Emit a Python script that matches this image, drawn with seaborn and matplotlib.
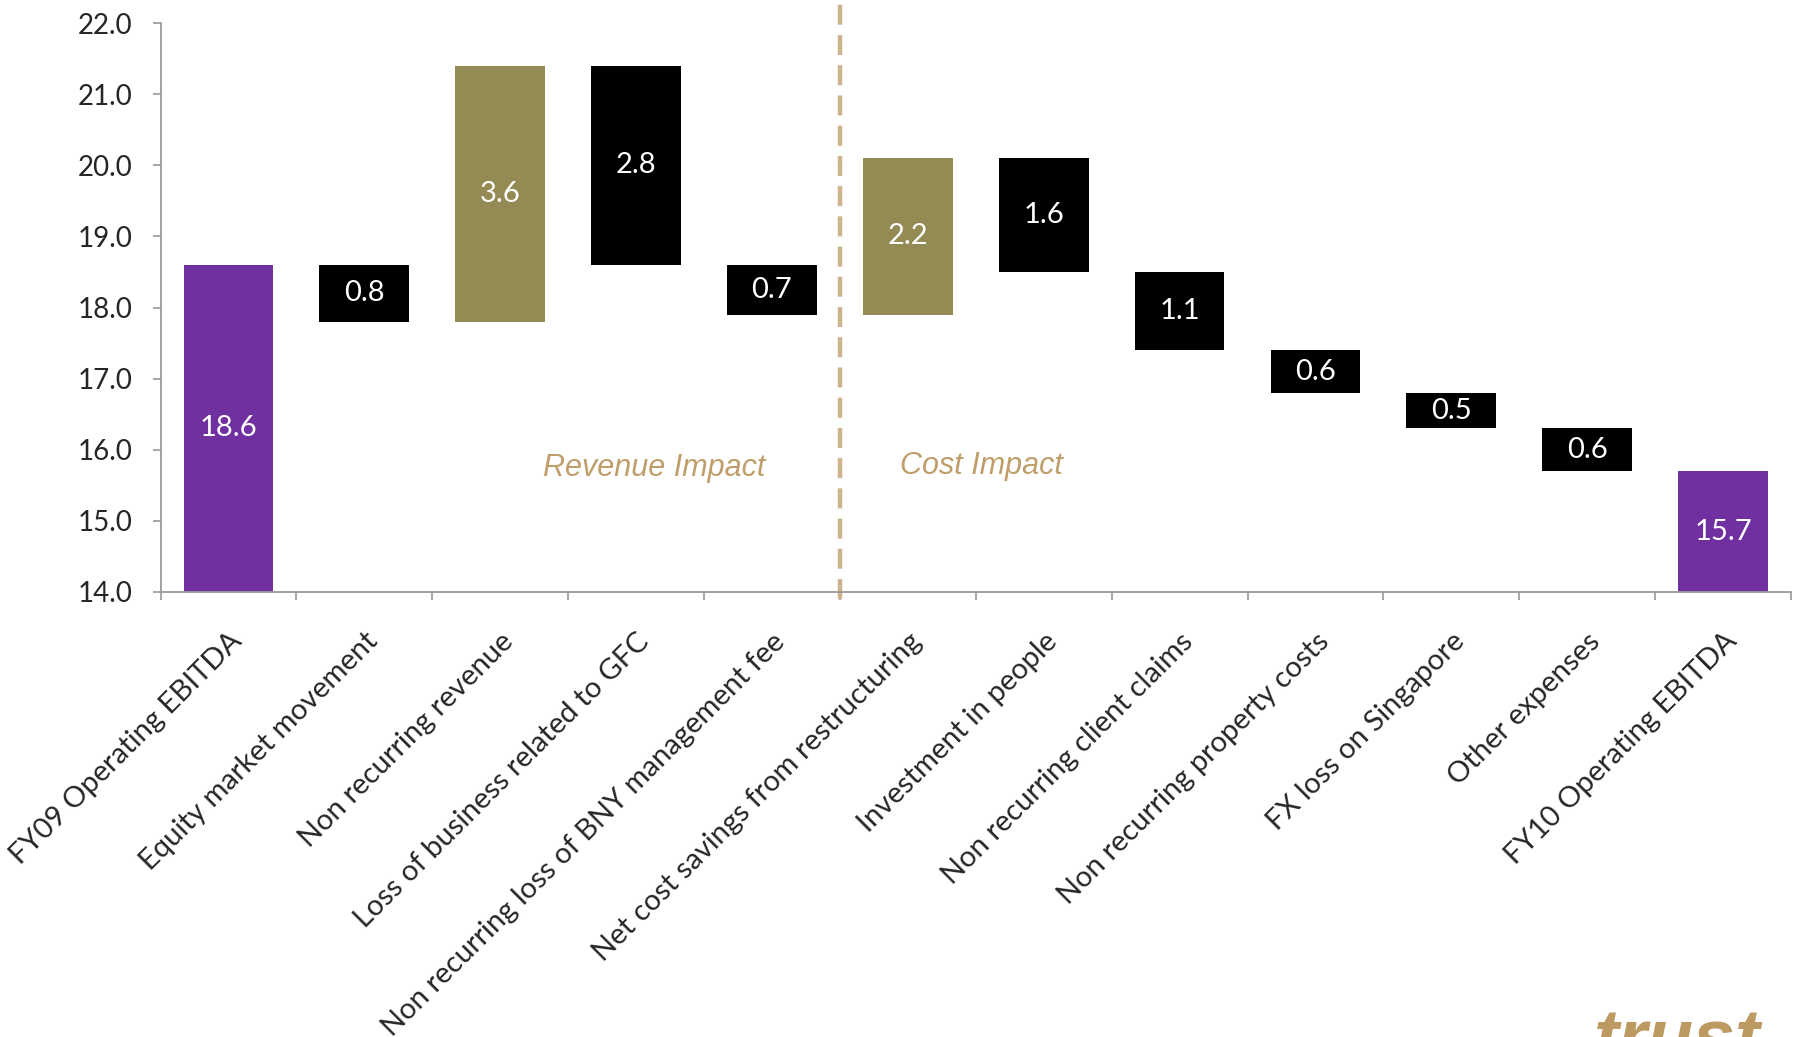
import matplotlib
matplotlib.use("Agg")
import matplotlib.pyplot as plt
import seaborn as sns
import numpy as np
import pandas as pd
from matplotlib.ticker import FixedLocator

categories = ["FY09 Operating EBITDA", "Equity market movement", "Non recurring revenue",
              "Loss of business related to GFC", "Non recurring loss of BNY management fee",
              "Net cost savings from restructuring", "Investment in people",
              "Non recurring client claims", "Non recurring property costs",
              "FX loss on Singapore", "Other expenses", "FY10 Operating EBITDA"]
changes = [18.6, -0.8, 3.6, -2.8, -0.7, 2.2, -1.6, -1.1, -0.6, -0.5, -0.6, 15.7]
kinds = ["total", "down", "up", "down", "down", "up", "down", "down", "down", "down", "down", "total"]
yticks = [14.0, 15.0, 16.0, 17.0, 18.0, 19.0, 20.0, 21.0, 22.0]

kind_colors = {"total": "#7030A0", "up": "#948A54", "down": "#000000"}

# waterfall bottoms/tops
bottoms, tops = [], []
run = 0.0
for c, k in zip(changes, kinds):
    if k == "total":
        bottoms.append(0.0); tops.append(c); run = c
    else:
        new = run + c
        bottoms.append(min(run, new)); tops.append(max(run, new)); run = new

df = pd.DataFrame({"cat": categories, "top": tops, "bottom": bottoms, "kind": kinds,
                   "label": [f"{abs(c):.1f}" for c in changes]})

sns.set_theme(style="white")
plt.rcParams["font.family"] = ["Lato", "DejaVu Sans"]

fig = plt.figure(figsize=(17.98, 10.37), dpi=100)
ax = fig.add_axes([160.5/1798, 1-592/1037, (1791-160.5)/1798, (592-23)/1037])

pal = {c: kind_colors[k] for c, k in zip(categories, kinds)}
sns.barplot(data=df, x="cat", y="top", hue="cat", palette=pal, legend=False,
            width=0.66, saturation=1, ax=ax, order=categories, hue_order=categories)

for p in ax.patches:
    i = int(round(p.get_x() + p.get_width()/2))
    p.set_y(bottoms[i]); p.set_height(tops[i] - bottoms[i])
    p.set_edgecolor("none")

for i in range(len(categories)):
    b, t = bottoms[i], tops[i]
    if kinds[i] == "total":
        ymid = 14 + (t - 14) / 2
    else:
        ymid = (b + t) / 2
    ax.text(i, ymid, df["label"][i], ha="center", va="center", color="white", fontsize=21)

ax.set_ylim(14, 22)
ax.set_xlim(-0.5, len(categories) - 0.5)
ax.set_yticks(yticks)
ax.set_yticklabels([f"{v:.1f}" for v in yticks], fontsize=20)
ax.set_xticks(range(len(categories)))
ax.set_xticklabels(categories, rotation=45, ha="right", rotation_mode="anchor", fontsize=21)
ax.xaxis.set_minor_locator(FixedLocator(np.arange(-0.5, len(categories), 1.0)))
ax.tick_params(axis="x", which="major", length=0, pad=26)
ax.tick_params(axis="x", which="minor", length=6, width=1.2, color="#9a9a9a", direction="out", bottom=True)
ax.tick_params(axis="y", length=6, width=1.2, color="#9a9a9a", direction="out", left=True, pad=14)
for s in ["top", "right"]:
    ax.spines[s].set_visible(False)
for s in ["left", "bottom"]:
    ax.spines[s].set_color("#9a9a9a"); ax.spines[s].set_linewidth(1.3)
ax.set_xlabel(""); ax.set_ylabel("")

ax.plot([4.5, 4.5], [13.9, 22.4], color="#CDB48C", lw=3.2, dashes=(4.5, 2.3), clip_on=False)

tan = "#BF9E6A"
ax.text(3.13, 15.74, "Revenue Impact", ha="center", va="center", color=tan, fontsize=22,
        style="italic", family=["Liberation Sans Narrow", "Liberation Sans"])
ax.text(5.54, 15.77, "Cost Impact", ha="center", va="center", color=tan, fontsize=22,
        style="italic", family=["Liberation Sans Narrow", "Liberation Sans"])

fig.text(1594/1798, 1-1008/1037, "trust", ha="left", va="top", color="#BC9A62", fontsize=54,
         fontweight="bold", style="italic", family=["Liberation Sans", "DejaVu Sans"])

fig.savefig("out.png", dpi=100)
